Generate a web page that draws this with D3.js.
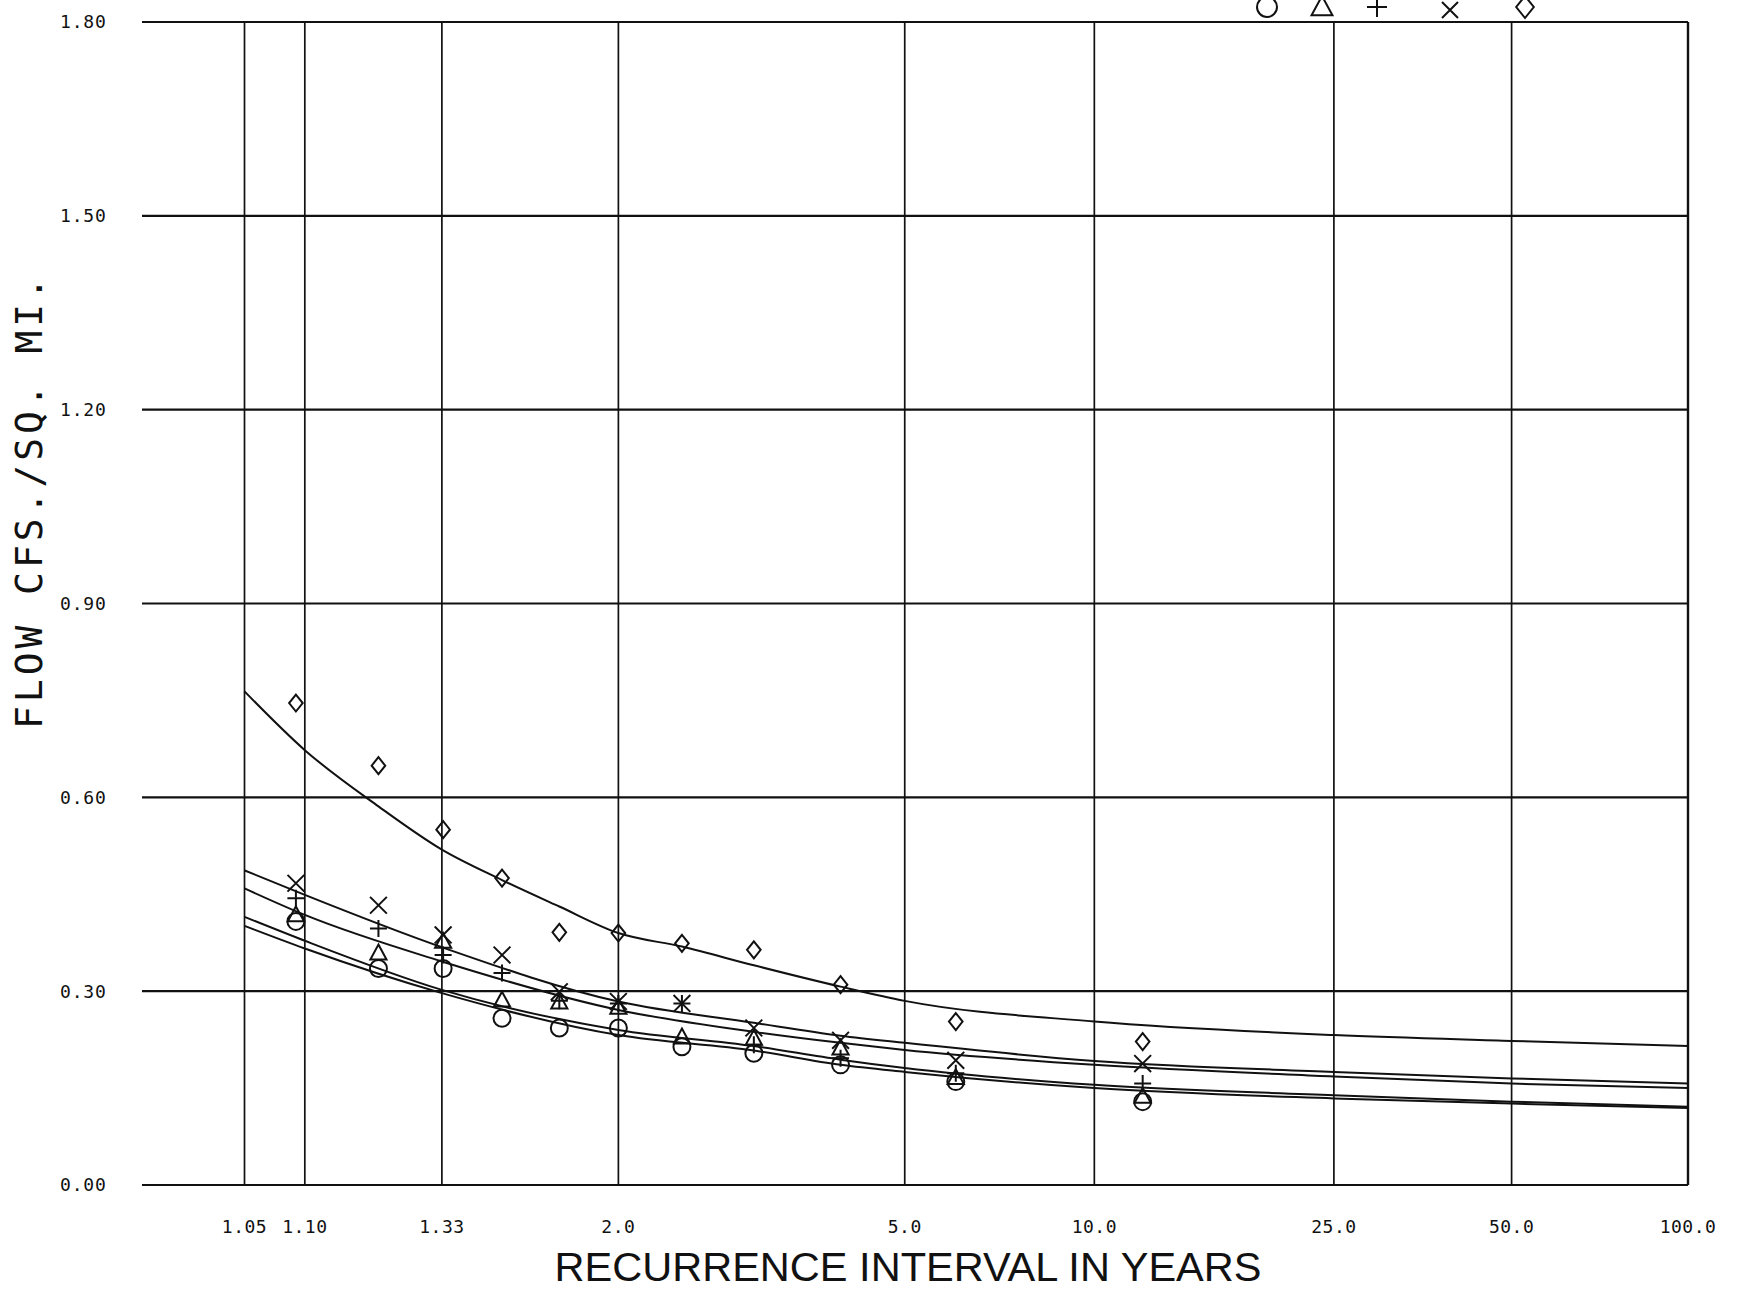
<!DOCTYPE html>
<html><head><meta charset="utf-8">
<script src="https://cdn.jsdelivr.net/npm/d3@7"></script>
<style>body{margin:0;background:#fff}svg{display:block;background:#fff}</style>
</head><body><svg id="chart" width="1741" height="1291"></svg>
<script>
// ---- data ----
const xTickValues = [1.05, 1.10, 1.33, 2.0, 5.0, 10.0, 25.0, 50.0, 100.0];
const xTickLabels = ["1.05", "1.10", "1.33", "2.0", "5.0", "10.0", "25.0", "50.0", "100.0"];
const yTickValues = [0.00, 0.30, 0.60, 0.90, 1.20, 1.50, 1.80];
const yTickLabels = ["0.00", "0.30", "0.60", "0.90", "1.20", "1.50", "1.80"];
const seriesSymbols = ["circle", "triangle", "plus", "x", "diamond"];

// plotted points (recurrence interval, years)
const pointT = [12, 6, 4, 3, 2.4, 2, 1.714, 1.5, 1.333, 1.2, 1.091];
const circleVals   = [0.129, 0.160, 0.186, 0.204, 0.214, 0.243, 0.243, 0.258, 0.335, 0.335, 0.408];
const triangleVals = [0.137, 0.166, 0.212, 0.227, 0.229, 0.275, 0.283, 0.286, 0.377, 0.359, 0.418];
const plusVals     = [0.157, 0.173, 0.196, 0.217, 0.281, 0.281, 0.285, 0.328, 0.356, 0.397, 0.444];
const xVals        = [0.188, 0.193, 0.224, 0.243, 0.281, 0.284, 0.299, 0.356, 0.387, 0.433, 0.467];
const diamondVals  = [0.222, 0.253, 0.310, 0.364, 0.374, 0.390, 0.391, 0.475, 0.550, 0.649, 0.746];

// fitted frequency curves
const fitT = [1.05, 1.1, 1.33, 2, 3, 4, 5, 10, 25, 50, 100];
const circleFit   = [0.401, 0.366, 0.297, 0.232, 0.208, 0.186, 0.175, 0.150, 0.134, 0.126, 0.119];
const triangleFit = [0.415, 0.378, 0.302, 0.240, 0.215, 0.194, 0.181, 0.155, 0.139, 0.129, 0.121];
const plusFit     = [0.459, 0.418, 0.346, 0.271, 0.237, 0.220, 0.209, 0.186, 0.168, 0.157, 0.150];
const xFit        = [0.487, 0.449, 0.368, 0.284, 0.251, 0.231, 0.220, 0.192, 0.175, 0.165, 0.157];
const diamondFitT = [1.05, 1.1, 1.2, 1.33, 1.5, 1.714, 2, 2.4, 3, 4, 5, 10, 25, 50, 100];
const diamondFit  = [0.764, 0.673, 0.586, 0.519, 0.472, 0.431, 0.390, 0.369, 0.340, 0.307, 0.285, 0.253, 0.232, 0.223, 0.215];

// ---- layout ----
const svg = d3.select("#chart");
const plotLeft = 142, plotRight = 1688, plotTop = 22, plotBottom = 1185;
const gumbel = T => -Math.log(-Math.log(1 - 1 / T));
const xLin = d3.scaleLinear().domain([gumbel(1.05), gumbel(100)]).range([244.5, plotRight]);
const x = T => xLin(gumbel(T));
const y = d3.scaleLinear().domain([0, 1.8]).range([plotBottom, plotTop]);

const ink = "#111";

// horizontal grid
svg.append("g").selectAll("line").data(yTickValues).join("line")
  .attr("x1", plotLeft).attr("x2", plotRight)
  .attr("y1", d => y(d)).attr("y2", d => y(d))
  .attr("stroke", ink).attr("stroke-width", 2.2);

// vertical grid
svg.append("g").selectAll("line").data(xTickValues).join("line")
  .attr("x1", d => x(d)).attr("x2", d => x(d))
  .attr("y1", plotTop).attr("y2", plotBottom)
  .attr("stroke", ink).attr("stroke-width", d => d === 100 ? 2.4 : 1.7);

// y tick labels
svg.append("g").selectAll("text").data(yTickValues).join("text")
  .attr("x", 60).attr("y", d => y(d)).attr("dy", "0.36em")
  .attr("font-family", "DejaVu Sans Mono").attr("font-size", 18)
  .attr("letter-spacing", 0.8).attr("fill", ink)
  .text((d, i) => yTickLabels[i]);

// x tick labels
svg.append("g").selectAll("text").data(xTickValues).join("text")
  .attr("x", d => x(d)).attr("y", 1227).attr("dy", "0.36em")
  .attr("text-anchor", "middle")
  .attr("font-family", "DejaVu Sans Mono").attr("font-size", 18)
  .attr("letter-spacing", 0.5).attr("fill", ink)
  .text((d, i) => xTickLabels[i]);

// axis titles
svg.append("text")
  .attr("x", 908).attr("y", 1281)
  .attr("text-anchor", "middle")
  .attr("font-family", "Liberation Sans").attr("font-size", 40)
  .attr("textLength", 707).attr("lengthAdjust", "spacingAndGlyphs")
  .attr("fill", ink)
  .text("RECURRENCE INTERVAL IN YEARS");

svg.append("text")
  .attr("transform", "translate(42,503) rotate(-90)")
  .attr("text-anchor", "middle")
  .attr("font-family", "DejaVu Sans Mono").attr("font-size", 38)
  .attr("textLength", 452).attr("lengthAdjust", "spacing")
  .attr("fill", ink)
  .text("FLOW CFS./SQ. MI.");

// fitted curves
const line = d3.line().x(d => x(d[0])).y(d => y(d[1])).curve(d3.curveMonotoneX);
const fits = [
  [fitT, circleFit], [fitT, triangleFit], [fitT, plusFit], [fitT, xFit], [diamondFitT, diamondFit]
];
svg.append("g").selectAll("path").data(fits).join("path")
  .attr("d", f => line(f[0].map((t, i) => [t, f[1][i]])))
  .attr("fill", "none").attr("stroke", ink).attr("stroke-width", 2);

// symbols
function symbolPath(type, s) {
  const p = d3.path();
  if (type === "circle") { p.moveTo(s, 0); p.arc(0, 0, s, 0, 2 * Math.PI); }
  else if (type === "triangle") { p.moveTo(0, -s); p.lineTo(s * 0.95, s * 0.75); p.lineTo(-s * 0.95, s * 0.75); p.closePath(); }
  else if (type === "plus") { p.moveTo(-s, 0); p.lineTo(s, 0); p.moveTo(0, -s); p.lineTo(0, s); }
  else if (type === "x") { const a = s * 0.8; p.moveTo(-a, -a); p.lineTo(a, a); p.moveTo(a, -a); p.lineTo(-a, a); }
  else if (type === "diamond") { p.moveTo(0, -s); p.lineTo(s * 0.8, 0); p.lineTo(0, s); p.lineTo(-s * 0.8, 0); p.closePath(); }
  return p.toString();
}

const seriesVals = [circleVals, triangleVals, plusVals, xVals, diamondVals];
const pts = [];
seriesVals.forEach((vals, si) => vals.forEach((v, i) => pts.push({ t: pointT[i], v, sym: seriesSymbols[si] })));
const sizeFor = { circle: 8.5, triangle: 8.5, plus: 8.5, x: 10.5, diamond: 8.5 };
svg.append("g").selectAll("path").data(pts).join("path")
  .attr("transform", d => `translate(${x(d.t)},${y(d.v)})`)
  .attr("d", d => symbolPath(d.sym, sizeFor[d.sym]))
  .attr("fill", "none").attr("stroke", ink).attr("stroke-width", 2);

// legend (symbols only, along the top edge)
const legendX = [1267, 1322, 1377, 1450, 1525];
const legendSize = { circle: 10, triangle: 11, plus: 10, x: 10, diamond: 11 };
svg.append("g").selectAll("path").data(seriesSymbols).join("path")
  .attr("transform", (d, i) => `translate(${legendX[i]},${d === "x" ? 10 : 7})`)
  .attr("d", d => symbolPath(d, legendSize[d]))
  .attr("fill", "none").attr("stroke", ink).attr("stroke-width", 2);
</script>
</body></html>
